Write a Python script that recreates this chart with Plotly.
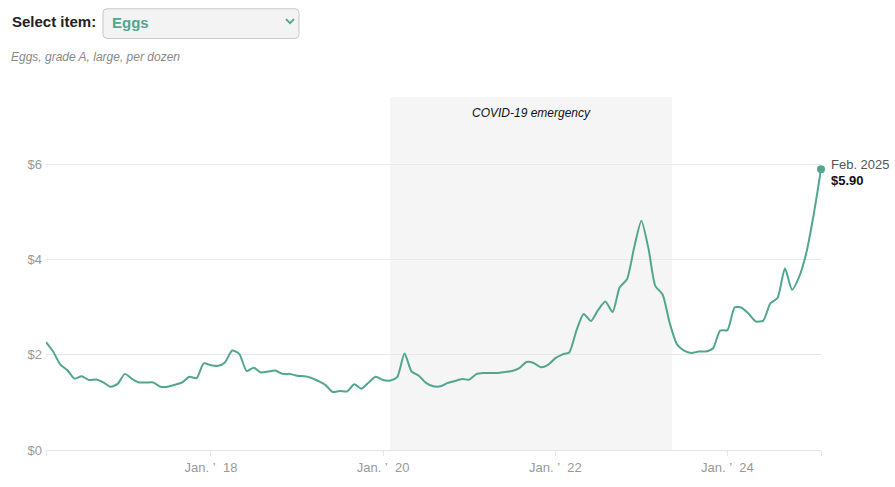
import plotly.graph_objects as go
import pandas as pd

start_month = "2016-02-01"
prices = [
    2.27, 2.08, 1.80, 1.68, 1.50, 1.55, 1.47, 1.48, 1.42, 1.33, 1.39,
    1.60, 1.49, 1.42, 1.42, 1.42, 1.33, 1.33, 1.37, 1.42, 1.54, 1.51, 1.82,
    1.78, 1.77, 1.84, 2.09, 2.02, 1.66, 1.73, 1.63, 1.65, 1.67, 1.60, 1.60,
    1.56, 1.55, 1.52, 1.45, 1.37, 1.22, 1.24, 1.23, 1.38, 1.29, 1.42, 1.54,
    1.47, 1.46, 1.53, 2.03, 1.65, 1.56, 1.41, 1.34, 1.34, 1.41, 1.45, 1.49,
    1.48, 1.60, 1.62, 1.62, 1.62, 1.64, 1.66, 1.72, 1.85, 1.83, 1.74, 1.79,
    1.93, 2.01, 2.05, 2.52, 2.86, 2.71, 2.94, 3.12, 2.90, 3.42, 3.59, 4.25,
    4.82, 4.21, 3.45, 3.27, 2.67, 2.22, 2.09, 2.04, 2.07, 2.07, 2.14, 2.51,
    2.52, 3.00, 2.99, 2.86, 2.70, 2.72, 3.08, 3.20, 3.82, 3.37, 3.65, 4.15,
    4.95, 5.90,
]
dates = pd.date_range(start_month, periods=len(prices), freq="MS")

covid_start = "2020-01-31"
covid_end = "2023-05-11"
covid_label = "COVID-19 emergency"

y_ticks = [0, 2, 4, 6]
y_tick_labels = ["$0", "$2", "$4", "$6"]
x_ticks = ["2016-02-01", "2018-01-01", "2020-01-01", "2022-01-01", "2024-01-01", "2025-02-01"]
x_tick_labels = ["", "Jan. \u2019\u00a0\u00a018", "Jan. \u2019\u00a0\u00a020", "Jan. \u2019\u00a0\u00a022", "Jan. \u2019\u00a0\u00a024", ""]

item_name = "Eggs"
subtitle = "Eggs, grade A, large, per dozen"
end_label = "Feb. 2025"
end_value = "$5.90"

TEAL = "#52a68f"
FONT = "Arial, Liberation Sans, sans-serif"

W, H = 895, 487
L, R, T, B = 46, 74, 97, 34
PW, PH = W - L - R, H - T - B
YMAX = 7.42


def px(x):
    return (x - L) / PW


def py(y):
    return (H - B - y) / PH


fig = go.Figure()

fig.add_trace(go.Scatter(
    x=dates, y=prices, mode="lines",
    line=dict(color=TEAL, width=2, shape="spline", smoothing=0.6),
    hoverinfo="skip", showlegend=False, cliponaxis=False,
))
fig.add_trace(go.Scatter(
    x=[dates[-1]], y=[prices[-1]], mode="markers",
    marker=dict(color=TEAL, size=8), hoverinfo="skip", showlegend=False,
    cliponaxis=False,
))

shapes = [
    dict(type="rect", xref="x", yref="paper", x0=covid_start, x1=covid_end,
         y0=0, y1=1, fillcolor="#f5f5f5", line=dict(width=0), layer="below"),
]

# dropdown box (rounded)
bx0, bx1, by0, by1, r = 103, 299, 8, 38, 4
path = (f"M {px(bx0+r)},{py(by0)} L {px(bx1-r)},{py(by0)} Q {px(bx1)},{py(by0)} {px(bx1)},{py(by0+r)} "
        f"L {px(bx1)},{py(by1-r)} Q {px(bx1)},{py(by1)} {px(bx1-r)},{py(by1)} "
        f"L {px(bx0+r)},{py(by1)} Q {px(bx0)},{py(by1)} {px(bx0)},{py(by1-r)} "
        f"L {px(bx0)},{py(by0+r)} Q {px(bx0)},{py(by0)} {px(bx0+r)},{py(by0)} Z")
shapes.append(dict(type="path", xref="paper", yref="paper", path=path,
                   fillcolor="#f3f3f3", line=dict(color="#c8c8c8", width=1)))
chev = f"M {px(286)},{py(18.5)} L {px(290)},{py(22.5)} L {px(294)},{py(18.5)}"
shapes.append(dict(type="path", xref="paper", yref="paper", path=chev,
                   line=dict(color=TEAL, width=2)))

annotations = [
    dict(xref="x", yref="paper", x=pd.Timestamp(covid_start) + (pd.Timestamp(covid_end) - pd.Timestamp(covid_start)) / 2,
         y=py(113), text=f"<i>{covid_label}</i>", showarrow=False,
         font=dict(family=FONT, size=12, color="#111"), xanchor="center", yanchor="middle"),
    dict(xref="paper", yref="paper", x=px(10), y=py(21), text="<b>Select item:</b>",
         showarrow=False, xanchor="left", yanchor="middle",
         font=dict(family=FONT, size=15, color="#222")),
    dict(xref="paper", yref="paper", x=px(110), y=py(22), text=f"<b>{item_name}</b>",
         showarrow=False, xanchor="left", yanchor="middle",
         font=dict(family=FONT, size=15, color=TEAL)),
    dict(xref="paper", yref="paper", x=px(9), y=py(57), text=f"<i>{subtitle}</i>",
         showarrow=False, xanchor="left", yanchor="middle",
         font=dict(family=FONT, size=12, color="#888")),
    dict(xref="paper", yref="paper", x=px(829), y=py(165), text=end_label,
         showarrow=False, xanchor="left", yanchor="middle",
         font=dict(family=FONT, size=13, color="#555")),
    dict(xref="paper", yref="paper", x=px(829), y=py(181), text=f"<b>{end_value}</b>",
         showarrow=False, xanchor="left", yanchor="middle",
         font=dict(family=FONT, size=13, color="#111")),
]

fig.update_layout(
    width=W, height=H,
    margin=dict(l=L, r=R, t=T, b=B, pad=0),
    paper_bgcolor="white", plot_bgcolor="white",
    shapes=shapes, annotations=annotations,
    font=dict(family=FONT),
    xaxis=dict(
        type="date", range=["2016-02-01", "2025-02-01"],
        tickvals=x_ticks, ticktext=x_tick_labels,
        showgrid=False, zeroline=False,
        showline=True, linecolor="#e6e6e6", linewidth=1,
        ticks="outside", ticklen=5, tickcolor="#e6e6e6",
        tickfont=dict(family=FONT, size=13, color="#999"),
        fixedrange=True,
    ),
    yaxis=dict(
        range=[0, YMAX], tickvals=y_ticks, ticktext=y_tick_labels,
        showgrid=True, gridcolor="#e8e8e8", gridwidth=1,
        zeroline=False, showline=False, ticks="",
        tickfont=dict(family=FONT, size=13, color="#999"),
        ticklabelstandoff=3,
        fixedrange=True,
    ),
)

fig.write_html("out.html", config={"displayModeBar": False})
